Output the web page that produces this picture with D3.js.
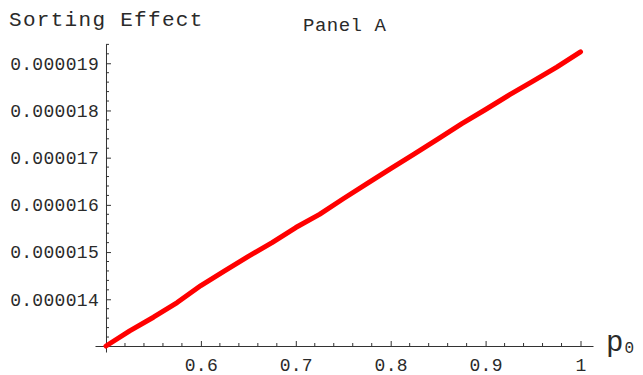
<!DOCTYPE html>
<html>
<head>
<meta charset="utf-8">
<script src="https://cdn.jsdelivr.net/npm/d3@7"></script>
<style>
  html, body { margin: 0; padding: 0; background: #fff; }
  svg { display: block; }
  text { font-family: "Liberation Mono", "Courier New", monospace; fill: #2a2a2a; }
</style>
</head>
<body>
<svg id="chart" width="643" height="375"></svg>
<script>
// Sorting effect as a function of p0 (values in units of 1e-6)
const p0Values = [0.5, 0.525, 0.55, 0.575, 0.6, 0.625, 0.65, 0.675, 0.7, 0.725, 0.75,
                  0.775, 0.8, 0.825, 0.85, 0.875, 0.9, 0.925, 0.95, 0.975, 1.0];
const effectValues = [13.01, 13.33, 13.62, 13.93, 14.29, 14.60, 14.91, 15.20, 15.52, 15.80, 16.13,
                      16.45, 16.77, 17.08, 17.40, 17.72, 18.02, 18.33, 18.62, 18.92, 19.24];

const xTicks = [0.6, 0.7, 0.8, 0.9, 1.0];
const xTickLabels = ["0.6", "0.7", "0.8", "0.9", "1"];
const yTicks = [14, 15, 16, 17, 18, 19];
const yTickLabels = ["0.000014", "0.000015", "0.000016", "0.000017", "0.000018", "0.000019"];

// Extent of the drawn axis lines (data units)
const xAxisExtent = [0.48841, 1.01317];
const yAxisExtent = [12.883, 19.408];

const svg = d3.select("#chart");

const x = d3.scaleLinear().domain(xAxisExtent).range([95, 593]);
const y = d3.scaleLinear().domain(yAxisExtent).range([352, 44]);

const originX = x(p0Values[0]);
const originY = y(d3.min(effectValues));

const axisColor = "#333";

// Minor tick positions
const xMinor = d3.range(0.5, 1.0001, 0.02).filter(v => !xTicks.some(t => Math.abs(t - v) < 1e-6) && Math.abs(v - 0.5) > 1e-6);
const yMinor = d3.range(13.2, 19.41, 0.2).filter(v => !yTicks.some(t => Math.abs(t - v) < 1e-6));

// X axis
const xAxis = d3.axisBottom(x)
  .tickValues(xTicks)
  .tickFormat((d, i) => xTickLabels[i])
  .tickSizeInner(-5)
  .tickSizeOuter(0)
  .tickPadding(12);
const gx = svg.append("g").attr("transform", `translate(0,${originY})`).call(xAxis);
gx.select(".domain").attr("stroke", axisColor);
gx.selectAll(".tick line").attr("stroke", axisColor);
gx.selectAll(".tick text")
  .attr("font-size", 18).attr("font-family", null).attr("fill", "#2a2a2a")
  .style("letter-spacing", "0.3px");
gx.selectAll(".minor").data(xMinor).join("line")
  .attr("class", "minor")
  .attr("x1", d => x(d)).attr("x2", d => x(d))
  .attr("y1", 0).attr("y2", -3)
  .attr("stroke", axisColor);

// Y axis
const yAxis = d3.axisLeft(y)
  .tickValues(yTicks)
  .tickFormat((d, i) => yTickLabels[i])
  .tickSizeInner(-5)
  .tickSizeOuter(0)
  .tickPadding(7);
const gy = svg.append("g").attr("transform", `translate(${originX},0)`).call(yAxis);
gy.select(".domain").attr("stroke", axisColor);
gy.selectAll(".tick line").attr("stroke", axisColor);
gy.selectAll(".tick text")
  .attr("font-size", 18).attr("font-family", null).attr("fill", "#2a2a2a")
  .style("letter-spacing", "0.3px");
gy.selectAll(".minor").data(yMinor).join("line")
  .attr("class", "minor")
  .attr("x1", 0).attr("x2", 3)
  .attr("y1", d => y(d)).attr("y2", d => y(d))
  .attr("stroke", axisColor);

// Curve
const line = d3.line()
  .x((d, i) => x(p0Values[i]))
  .y(d => y(d))
  .curve(d3.curveLinear);
svg.append("path")
  .datum(effectValues)
  .attr("d", line)
  .attr("fill", "none")
  .attr("stroke", "#ff0000")
  .attr("stroke-width", 5)
  .attr("stroke-linecap", "round")
  .attr("stroke-linejoin", "round");

// Titles and axis label
svg.append("text")
  .attr("x", 9).attr("y", 26)
  .attr("font-size", 21)
  .style("letter-spacing", "1.3px")
  .text("Sorting Effect");

svg.append("text")
  .attr("x", 303).attr("y", 31)
  .attr("font-size", 19)
  .style("letter-spacing", "0.5px")
  .text("Panel A");

const pl = svg.append("text").attr("x", 606).attr("y", 351).attr("font-size", 29);
pl.append("tspan").text("p");
pl.append("tspan").attr("font-size", 16).attr("dx", 1).attr("dy", 2).text("0");
</script>
</body>
</html>
